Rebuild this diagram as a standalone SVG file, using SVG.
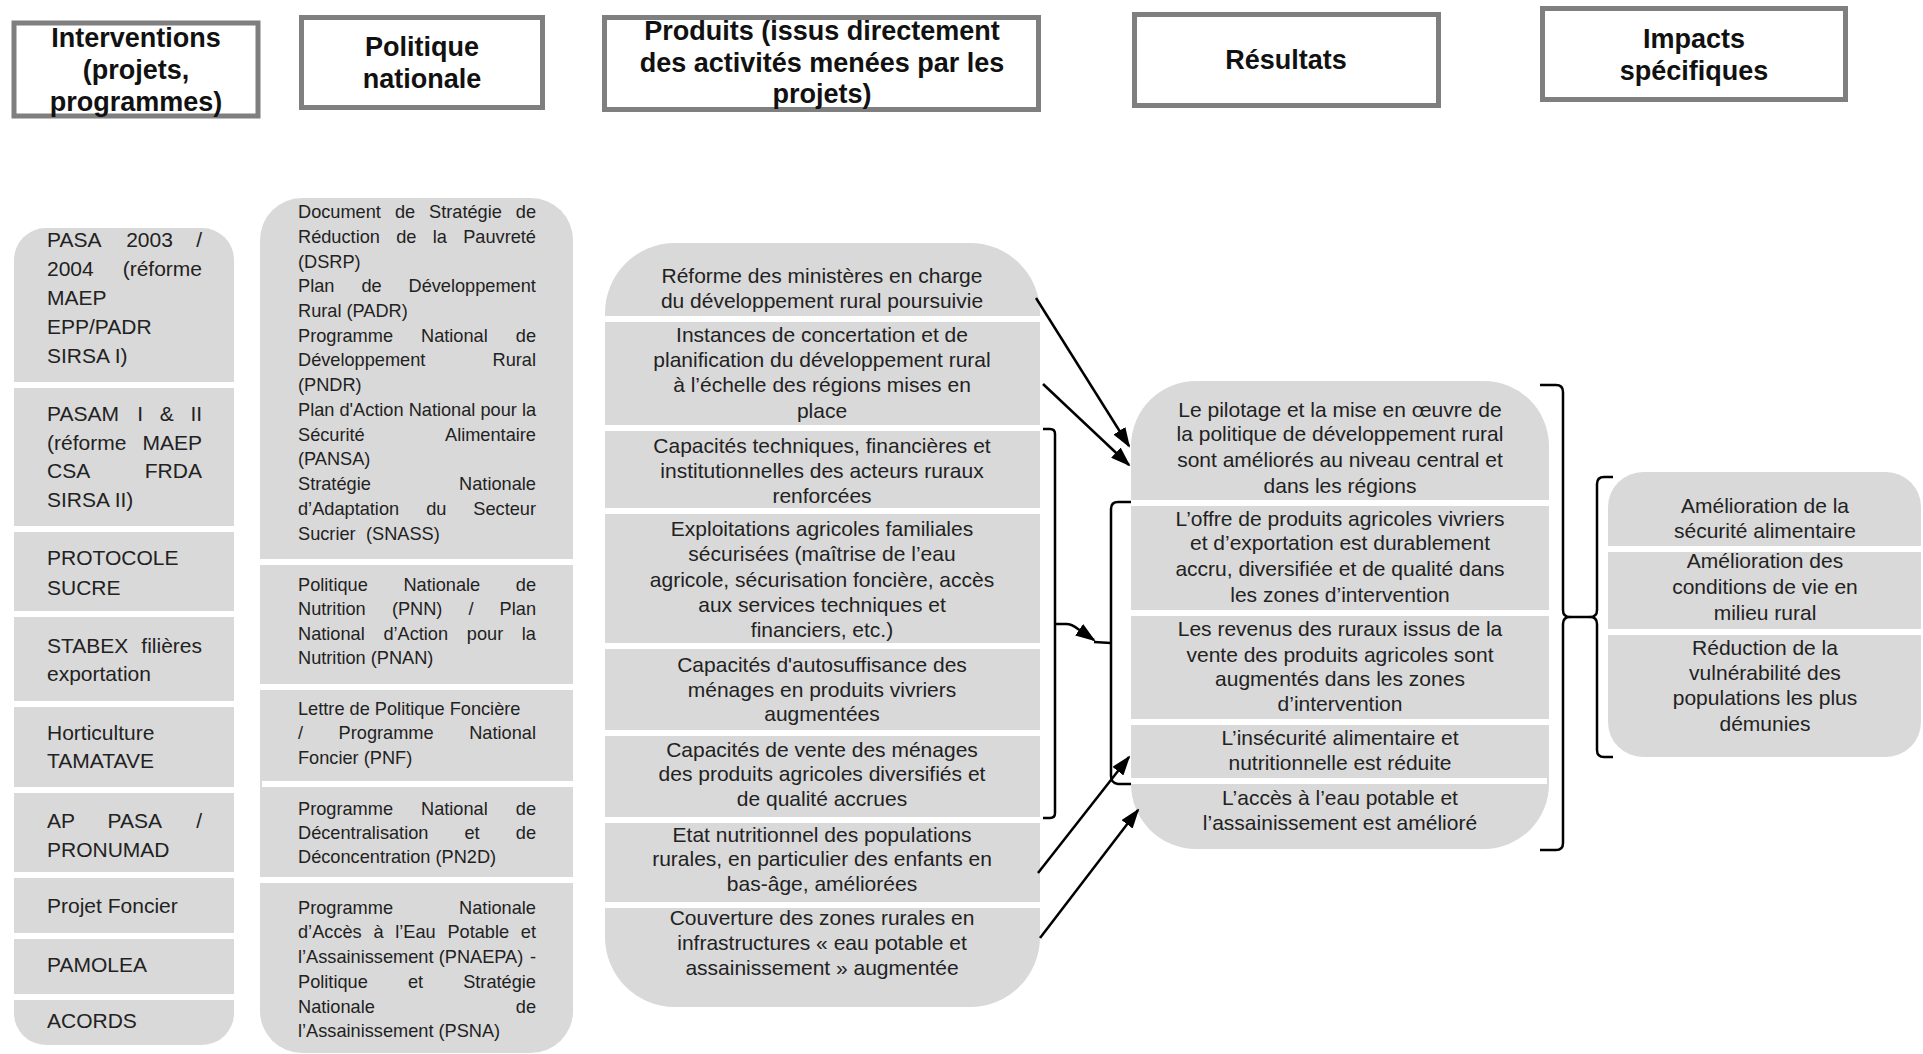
<svg xmlns="http://www.w3.org/2000/svg" width="1923" height="1054" viewBox="0 0 1923 1054">
  <defs>
    <style>
      .hdr rect { fill: #ffffff; stroke: #7f7f7f; stroke-width: 5; }
      .hdr text { font-family: "Liberation Sans", Arial, sans-serif; font-weight: bold; font-size: 27px; text-anchor: middle; fill: #111111; }
      .col { fill: #d9d9d9; }
      .sep { fill: #ffffff; }
      .c1 text { font-family: "Liberation Sans", Arial, sans-serif; font-size: 21px; fill: #222222; }
      .c2 text { font-family: "Liberation Sans", Arial, sans-serif; font-size: 18.2px; fill: #222222; }
      .cc text { font-family: "Liberation Sans", Arial, sans-serif; font-size: 21px; fill: #222222; text-anchor: middle; }
      .conn { fill: none; stroke: #000000; stroke-width: 2.5; stroke-linejoin: round; }
    </style>
    <marker id="arrow" viewBox="0 0 20 14" refX="18" refY="7" markerWidth="20" markerHeight="14" markerUnits="userSpaceOnUse" orient="auto">
      <path d="M0,0 L20,7 L0,14 z" fill="#000000"/>
    </marker>
  </defs>

  <rect width="1923" height="1054" fill="#ffffff"/>

  <!-- Column headers -->
  <g id="hdr-interventions" class="hdr">
    <rect x="14" y="23" width="244" height="93"/>
    <text x="136" y="47">Interventions</text>
    <text x="136" y="79">(projets,</text>
    <text x="136" y="111">programmes)</text>
  </g>
  <g id="hdr-politique" class="hdr">
    <rect x="301.5" y="17.5" width="241" height="90"/>
    <text x="422" y="56">Politique</text>
    <text x="422" y="88">nationale</text>
  </g>
  <g id="hdr-produits" class="hdr">
    <rect x="604.5" y="17.5" width="434" height="92"/>
    <text x="822" y="40">Produits (issus directement</text>
    <text x="822" y="72">des activités menées par les</text>
    <text x="822" y="103">projets)</text>
  </g>
  <g id="hdr-resultats" class="hdr">
    <rect x="1134.5" y="14.5" width="304" height="91"/>
    <text x="1286" y="69">Résultats</text>
  </g>
  <g id="hdr-impacts" class="hdr">
    <rect x="1542.5" y="8.5" width="303" height="91"/>
    <text x="1694" y="48">Impacts</text>
    <text x="1694" y="80">spécifiques</text>
  </g>

  <!-- Interventions (projects, programmes) -->
  <g id="interventions" class="c1">
    <rect class="col" x="14" y="228" width="220" height="817" rx="32"/>
    <rect class="sep" x="14" y="382" width="220" height="6"/>
    <rect class="sep" x="14" y="526" width="220" height="6"/>
    <rect class="sep" x="12" y="611" width="222" height="6"/>
    <rect class="sep" x="14" y="701" width="220" height="6"/>
    <rect class="sep" x="14" y="787" width="220" height="6"/>
    <rect class="sep" x="14" y="872" width="220" height="6"/>
    <rect class="sep" x="12" y="933" width="222" height="6"/>
    <rect class="sep" x="12" y="994" width="222" height="6"/>
    <text y="247"><tspan x="47">PASA</tspan><tspan x="126.2">2003</tspan><tspan x="196.2">/</tspan></text>
    <text y="276"><tspan x="47">2004</tspan><tspan x="122.7">(réforme</tspan></text>
    <text x="47" y="305">MAEP</text>
    <text x="47" y="334">EPP/PADR</text>
    <text x="47" y="363">SIRSA I)</text>
    <text y="421"><tspan x="47">PASAM</tspan><tspan x="137.2">I</tspan><tspan x="159.7">&amp;</tspan><tspan x="190.4">II</tspan></text>
    <text y="450"><tspan x="47">(réforme</tspan><tspan x="142.5">MAEP</tspan></text>
    <text y="478"><tspan x="47">CSA</tspan><tspan x="144.8">FRDA</tspan></text>
    <text x="47" y="507">SIRSA II)</text>
    <text x="47" y="565">PROTOCOLE</text>
    <text x="47" y="595">SUCRE</text>
    <text y="653"><tspan x="47">STABEX</tspan><tspan x="141.3">filières</tspan></text>
    <text x="47" y="681">exportation</text>
    <text x="47" y="740">Horticulture</text>
    <text x="47" y="768">TAMATAVE</text>
    <text y="828"><tspan x="47">AP</tspan><tspan x="107.6">PASA</tspan><tspan x="196.2">/</tspan></text>
    <text x="47" y="857">PRONUMAD</text>
    <text x="47" y="913">Projet Foncier</text>
    <text x="47" y="972">PAMOLEA</text>
    <text x="47" y="1028">ACORDS</text>
  </g>

  <!-- National policy documents -->
  <g id="politique" class="c2">
    <rect class="col" x="260" y="198" width="313" height="855" rx="42"/>
    <rect class="sep" x="260" y="559" width="313" height="6"/>
    <rect class="sep" x="260" y="684" width="315" height="6"/>
    <rect class="sep" x="262" y="781" width="313" height="6"/>
    <rect class="sep" x="260" y="877" width="313" height="6"/>
    <text y="218"><tspan x="298">Document</tspan><tspan x="394.9">de</tspan><tspan x="429.1">Stratégie</tspan><tspan x="515.8">de</tspan></text>
    <text y="243"><tspan x="298">Réduction</tspan><tspan x="396.2">de</tspan><tspan x="432.7">la</tspan><tspan x="463.2">Pauvreté</tspan></text>
    <text x="298" y="268">(DSRP)</text>
    <text y="292"><tspan x="298">Plan</tspan><tspan x="361.4">de</tspan><tspan x="408.5">Développement</tspan></text>
    <text x="298" y="317">Rural (PADR)</text>
    <text y="342"><tspan x="298">Programme</tspan><tspan x="421">National</tspan><tspan x="515.8">de</tspan></text>
    <text y="366"><tspan x="298">Développement</tspan><tspan x="492.5">Rural</tspan></text>
    <text x="298" y="391">(PNDR)</text>
    <text x="298" y="416">Plan d'Action National pour la</text>
    <text y="441"><tspan x="298">Sécurité</tspan><tspan x="445">Alimentaire</tspan></text>
    <text x="298" y="465">(PANSA)</text>
    <text y="490"><tspan x="298">Stratégie</tspan><tspan x="459.1">Nationale</tspan></text>
    <text y="515"><tspan x="298">d’Adaptation</tspan><tspan x="426.2">du</tspan><tspan x="473.3">Secteur</tspan></text>
    <text y="540"><tspan x="298">Sucrier</tspan><tspan x="366">(SNASS)</tspan></text>

    <text y="591"><tspan x="298">Politique</tspan><tspan x="403.4">Nationale</tspan><tspan x="515.8">de</tspan></text>
    <text y="615"><tspan x="298">Nutrition</tspan><tspan x="391.9">(PNN)</tspan><tspan x="468.4">/</tspan><tspan x="499.6">Plan</tspan></text>
    <text y="640"><tspan x="298">National</tspan><tspan x="383.4">d’Action</tspan><tspan x="466.8">pour</tspan><tspan x="521.8">la</tspan></text>
    <text x="298" y="664">Nutrition (PNAN)</text>

    <text x="298" y="715">Lettre de Politique Foncière</text>
    <text y="739"><tspan x="298">/</tspan><tspan x="338.6">Programme</tspan><tspan x="469.2">National</tspan></text>
    <text x="298" y="764">Foncier (PNF)</text>

    <text y="815"><tspan x="298">Programme</tspan><tspan x="421">National</tspan><tspan x="515.8">de</tspan></text>
    <text y="839"><tspan x="298">Décentralisation</tspan><tspan x="464.5">et</tspan><tspan x="515.8">de</tspan></text>
    <text x="298" y="863">Déconcentration (PN2D)</text>

    <text y="914"><tspan x="298">Programme</tspan><tspan x="459.1">Nationale</tspan></text>
    <text y="938"><tspan x="298">d’Accès</tspan><tspan x="373.4">à</tspan><tspan x="395.2">l’Eau</tspan><tspan x="447.4">Potable</tspan><tspan x="520.8">et</tspan></text>
    <text y="963"><tspan x="298">l’Assainissement</tspan><tspan x="438.7">(PNAEPA)</tspan><tspan x="529.9">-</tspan></text>
    <text y="988"><tspan x="298">Politique</tspan><tspan x="407.9">et</tspan><tspan x="463.2">Stratégie</tspan></text>
    <text y="1013"><tspan x="298">Nationale</tspan><tspan x="515.8">de</tspan></text>
    <text x="298" y="1037">l’Assainissement (PSNA)</text>
  </g>

  <!-- Outputs -->
  <g id="produits" class="cc">
    <rect class="col" x="605" y="243" width="435" height="764" rx="70"/>
    <rect class="sep" x="605" y="316" width="435" height="6"/>
    <rect class="sep" x="605" y="425" width="435" height="6"/>
    <rect class="sep" x="605" y="508" width="435" height="6"/>
    <rect class="sep" x="605" y="643" width="435" height="6"/>
    <rect class="sep" x="605" y="730" width="435" height="6"/>
    <rect class="sep" x="605" y="817" width="435" height="6"/>
    <rect class="sep" x="605" y="902" width="435" height="6"/>
    <text x="822" y="283">Réforme des ministères en charge</text>
    <text x="822" y="308">du développement rural poursuivie</text>
    <text x="822" y="342">Instances de concertation et de</text>
    <text x="822" y="367">planification du développement rural</text>
    <text x="822" y="392">à l’échelle des régions mises en</text>
    <text x="822" y="418">place</text>
    <text x="822" y="453">Capacités techniques, financières et</text>
    <text x="822" y="478">institutionnelles des acteurs ruraux</text>
    <text x="822" y="503">renforcées</text>
    <text x="822" y="536">Exploitations agricoles familiales</text>
    <text x="822" y="561">sécurisées (maîtrise de l’eau</text>
    <text x="822" y="587">agricole, sécurisation foncière, accès</text>
    <text x="822" y="612">aux services techniques et</text>
    <text x="822" y="637">financiers, etc.)</text>
    <text x="822" y="672">Capacités d'autosuffisance des</text>
    <text x="822" y="697">ménages en produits vivriers</text>
    <text x="822" y="721">augmentées</text>
    <text x="822" y="757">Capacités de vente des ménages</text>
    <text x="822" y="781">des produits agricoles diversifiés et</text>
    <text x="822" y="806">de qualité accrues</text>
    <text x="822" y="842">Etat nutritionnel des populations</text>
    <text x="822" y="866">rurales, en particulier des enfants en</text>
    <text x="822" y="891">bas-âge, améliorées</text>
    <text x="822" y="925">Couverture des zones rurales en</text>
    <text x="822" y="950">infrastructures « eau potable et</text>
    <text x="822" y="975">assainissement » augmentée</text>
  </g>

  <!-- Results -->
  <g id="resultats" class="cc">
    <rect class="col" x="1131" y="381" width="418" height="468" rx="65"/>
    <rect class="sep" x="1131" y="500" width="418" height="6"/>
    <rect class="sep" x="1131" y="610" width="418" height="6"/>
    <rect class="sep" x="1131" y="719" width="418" height="6"/>
    <rect class="sep" x="1131" y="778" width="416" height="6"/>
    <text x="1340" y="417">Le pilotage et la mise en œuvre de</text>
    <text x="1340" y="441">la politique de développement rural</text>
    <text x="1340" y="467">sont améliorés au niveau central et</text>
    <text x="1340" y="493">dans les régions</text>
    <text x="1340" y="526">L’offre de produits agricoles vivriers</text>
    <text x="1340" y="550">et d’exportation est durablement</text>
    <text x="1340" y="576">accru, diversifiée et de qualité dans</text>
    <text x="1340" y="602">les zones d’intervention</text>
    <text x="1340" y="636">Les revenus des ruraux issus de la</text>
    <text x="1340" y="662">vente des produits agricoles sont</text>
    <text x="1340" y="686">augmentés dans les zones</text>
    <text x="1340" y="711">d’intervention</text>
    <text x="1340" y="745">L’insécurité alimentaire et</text>
    <text x="1340" y="770">nutritionnelle est réduite</text>
    <text x="1340" y="805">L’accès à l’eau potable et</text>
    <text x="1340" y="830">l’assainissement est amélioré</text>
  </g>

  <!-- Specific impacts -->
  <g id="impacts" class="cc">
    <rect class="col" x="1608" y="472" width="313" height="285" rx="35"/>
    <rect class="sep" x="1608" y="546" width="313" height="6"/>
    <rect class="sep" x="1608" y="629" width="313" height="6"/>
    <text x="1765" y="513">Amélioration de la</text>
    <text x="1765" y="538">sécurité alimentaire</text>
    <text x="1765" y="568">Amélioration des</text>
    <text x="1765" y="594">conditions de vie en</text>
    <text x="1765" y="620">milieu rural</text>
    <text x="1765" y="655">Réduction de la</text>
    <text x="1765" y="680">vulnérabilité des</text>
    <text x="1765" y="705">populations les plus</text>
    <text x="1765" y="731">démunies</text>
  </g>

  <!-- Connectors: arrows and grouping brackets -->
  <g id="connectors" class="conn">
    <line x1="1036" y1="298" x2="1129" y2="446" marker-end="url(#arrow)"/>
    <line x1="1043" y1="384" x2="1129" y2="465" marker-end="url(#arrow)"/>
    <path d="M1043,429 L1050,429 Q1055,429 1055,434 L1055,813 Q1055,818 1050,818 L1043,818"/>
    <path d="M1055,624 L1066,624 Q1072,624 1078,629 L1094,640" marker-end="url(#arrow)"/>
    <path d="M1131,502 L1118,502 Q1111,502 1111,509 L1111,776 Q1111,783 1118,784 L1131,784"/>
    <path d="M1094,642 L1111,643"/>
    <line x1="1038" y1="873" x2="1129" y2="757" marker-end="url(#arrow)"/>
    <line x1="1040" y1="938" x2="1138" y2="810" marker-end="url(#arrow)"/>
    <path d="M1540,385 L1556,385 Q1563,385 1563,392 L1563,610 Q1563,617 1570,617 Q1563,617 1563,624 L1563,843 Q1563,850 1556,850 L1540,850"/>
    <path d="M1570,617 L1590,617"/>
    <path d="M1613,477 L1604,477 Q1597,477 1597,484 L1597,610 Q1597,617 1590,617 Q1597,617 1597,624 L1597,750 Q1597,757 1604,757 L1613,757"/>
  </g>
</svg>
